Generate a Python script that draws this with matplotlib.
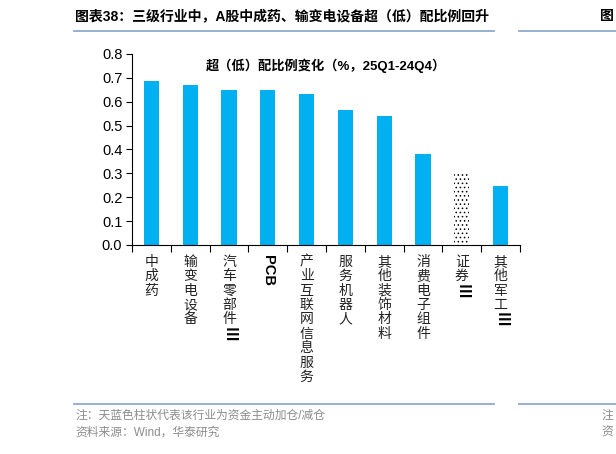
import numpy as np
import matplotlib
matplotlib.use("Agg")
import matplotlib.pyplot as plt

plt.rcParams['font.family'] = ['Liberation Sans', 'Noto Sans CJK SC', 'DejaVu Sans']
plt.rcParams['hatch.color'] = 'black'
plt.rcParams['hatch.linewidth'] = 0.6

# data
categories = [
    [('中成药', False)],
    [('输变电设备', False)],
    [('汽车零部件', False), ('Ⅲ', True)],
    [('PCB', True)],
    [('产业互联网信息服务', False)],
    [('服务机器人', False)],
    [('其他装饰材料', False)],
    [('消费电子组件', False)],
    [('证券', False), ('Ⅲ', True)],
    [('其他军工', False), ('Ⅲ', True)],
]
values = [0.687, 0.671, 0.649, 0.649, 0.632, 0.565, 0.540, 0.380, 0.303, 0.246]
active = [True, True, True, True, True, True, True, True, False, True]
yticks = [0.0, 0.1, 0.2, 0.3, 0.4, 0.5, 0.6, 0.7, 0.8]

title = '图表38：三级行业中，A股中成药、输变电设备超（低）配比例回升'
subtitle = '超（低）配比例变化（%，25Q1-24Q4）'
note = '注：天蓝色柱状代表该行业为资金主动加仓/减仓'
source = '资料来源：Wind，华泰研究'

blue = '#00B0F0'
line_col = '#8FA9D0'

fig = plt.figure(figsize=(6.16, 4.54), dpi=100)
ax = fig.add_axes([0.2143, 0.4604, 0.6299, 0.4207])

x = np.arange(len(values))
for xi, v, a in zip(x, values, active):
    if a:
        ax.bar(xi, v, width=0.39, color=blue, linewidth=0)
    else:
        ax.bar(xi, v, width=0.39, facecolor='white', edgecolor='black',
               linewidth=0, hatch='....')

ax.set_xlim(-0.5, len(values) - 0.5)
ax.set_ylim(0, 0.8)
ax.set_yticks(yticks)
ax.set_yticklabels([f'{t:.1f}' for t in yticks], fontsize=10.5)
ax.spines['top'].set_visible(False)
ax.spines['right'].set_visible(False)
ax.spines['left'].set_color('black')
ax.spines['bottom'].set_color('black')
ax.tick_params(axis='y', direction='out', length=4, width=0.8, pad=3)
ax.set_xticks(np.arange(-0.5, len(values), 1.0))
ax.set_xticklabels([])
ax.tick_params(axis='x', direction='out', length=5, width=0.8)

ax.text(0.5, 0.94, subtitle, transform=ax.transAxes, ha='center', va='center',
        fontsize=9.5, fontweight='bold')

# vertical category labels: CJK upright, Latin rotated
step = 10.4
for xi, parts in zip(x, categories):
    off = 7.0
    for txt, rot in parts:
        if rot:
            ax.annotate(txt, xy=(xi, 0), xycoords=ax.get_xaxis_transform(),
                        xytext=(0, -off), textcoords='offset points',
                        ha='center', va='top', rotation=-90,
                        fontsize=10.5, fontweight='bold', annotation_clip=False)
            off += 0.72 * 10.5 * len(txt) if txt != 'Ⅲ' else 12
        else:
            for ch in txt:
                ax.annotate(ch, xy=(xi, 0), xycoords=ax.get_xaxis_transform(),
                            xytext=(0, -off), textcoords='offset points',
                            ha='center', va='top', fontsize=10,
                            color='#222222', annotation_clip=False)
                off += step

# header / footer
fig.text(0.122, 0.965, title, fontsize=10, fontweight='bold', ha='left', va='center')
fig.add_artist(plt.Line2D([0.120, 0.802], [0.932, 0.932], color=line_col, lw=1.3))
fig.add_artist(plt.Line2D([0.842, 1.0], [0.932, 0.932], color=line_col, lw=1.3))
fig.text(0.996, 0.965, '图', fontsize=10, fontweight='bold', ha='right', va='center')

fig.add_artist(plt.Line2D([0.120, 0.802], [0.110, 0.110], color=line_col, lw=1.3))
fig.add_artist(plt.Line2D([0.842, 1.0], [0.110, 0.110], color=line_col, lw=1.3))
fig.text(0.122, 0.085, note, fontsize=8.5, color='#8C8C8C', ha='left', va='center')
fig.text(0.122, 0.048, source, fontsize=8.5, color='#8C8C8C', ha='left', va='center')
fig.text(0.996, 0.085, '注', fontsize=8.5, color='#8C8C8C', ha='right', va='center')
fig.text(0.996, 0.048, '资', fontsize=8.5, color='#8C8C8C', ha='right', va='center')

fig.savefig('out.png', dpi=100, facecolor='white')
